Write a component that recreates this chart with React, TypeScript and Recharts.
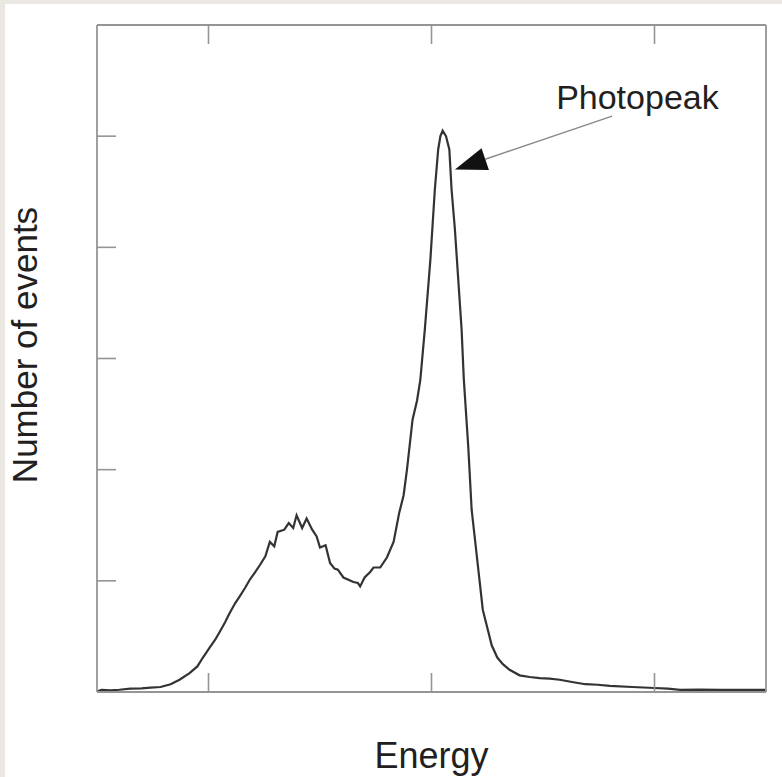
import React from "react";
import { LineChart, Line, XAxis, YAxis, ReferenceLine } from "recharts";

// Energy channel (arbitrary units, 0..600) and number of events (arbitrary units, 0..600)
const energy = [
  0, 4, 12, 20, 30, 40, 48, 57, 66, 74, 83, 90, 95, 101, 106, 110, 115, 119, 124, 128, 133, 137, 142, 146,
  151, 155, 159, 162, 168, 172, 176, 179, 184, 188, 193, 197, 200, 205, 209, 213, 216, 221, 230, 234, 236,
  240, 245, 248, 254, 260, 266, 271, 275, 278, 283, 287, 290, 294, 299, 303, 306, 308, 310, 313, 316, 318,
  321, 324, 327, 329, 333, 336, 339, 343, 346, 350, 354, 359, 364, 370, 379, 388, 397, 406, 415, 426, 438,
  449, 460, 480, 500, 512, 523, 540, 559, 580, 600,
];
const counts = [
  0.5, 2, 1.5, 2, 3, 3.2, 4, 4.5, 7, 11, 17, 23, 31, 40, 47, 54, 63, 71, 80, 86, 94, 101, 108, 114, 122,
  135, 131, 144, 146, 152, 147.5, 159, 147.5, 156, 146, 140, 130, 132, 116, 111, 110, 103, 99, 98, 95, 103,
  108, 112, 112, 121, 135, 161, 177, 200, 245, 262, 281, 326, 389, 452, 488, 500, 505, 500, 488, 452, 416,
  371, 326, 281, 220, 164, 137, 101, 74, 58, 42, 31, 25, 20, 15, 13.5, 12.5, 12, 11, 9, 7, 6.5, 5.5, 4.5,
  3.6, 3, 2, 2.2, 2, 2, 2,
];
const xTicks = [100, 300, 500];
const yTicks = [100, 200, 300, 400, 500];
const annotationText = "Photopeak";
const xTitle = "Energy";
const yTitle = "Number of events";
// arrow: tip on the peak flank, tail near the label
const arrowSegment = [
  { x: 321, y: 470 },
  { x: 462, y: 518 },
];

const data = energy.map((e, i) => ({ e, n: counts[i] }));

const FRAME = "#959595";
const FONT = "'Liberation Sans', Arial, Helvetica, sans-serif";

const ArrowShape = (props: any) => {
  const { x1, y1, x2, y2 } = props;
  const dx = x2 - x1;
  const dy = y2 - y1;
  const len = Math.sqrt(dx * dx + dy * dy) || 1;
  const ux = dx / len;
  const uy = dy / len;
  const headLen = 32;
  const half = 11.5;
  const bx = x1 + ux * headLen;
  const by = y1 + uy * headLen;
  const px = -uy * half;
  const py = ux * half;
  return (
    <g>
      <line x1={bx} y1={by} x2={x2} y2={y2} stroke="#8a8a8a" strokeWidth={1.5} />
      <polygon
        points={`${x1},${y1} ${bx + px},${by + py} ${bx - px},${by - py}`}
        fill="#111"
      />
      <text x={x2 - 56} y={y2 - 7} fontSize={34} fontFamily={FONT} fill="#231f20">
        {annotationText}
      </text>
    </g>
  );
};

const EmptyTick = () => <g />;

const axisCommon = {
  type: "number" as const,
  domain: [0, 600] as [number, number],
  mirror: true,
  tick: EmptyTick,
  tickSize: 19,
  axisLine: { stroke: FRAME, strokeWidth: 1.8 },
  tickLine: { stroke: FRAME, strokeWidth: 1.6 },
};

export default function App() {
  return (
    <div
      style={{
        position: "absolute",
        left: 0,
        top: 0,
        width: 782,
        height: 777,
        background: "#ebe8e4",
        overflow: "hidden",
      }}
    >
      <div
        style={{
          position: "absolute",
          left: 5,
          top: 4,
          width: 777,
          height: 773,
          background: "#ffffff",
        }}
      />
      <div style={{ position: "absolute", left: 0, top: 0 }}>
        <LineChart
          width={782}
          height={777}
          data={data}
          margin={{ top: 25, left: 97, right: 16, bottom: 85 }}
        >
          <XAxis {...axisCommon} xAxisId={0} dataKey="e" ticks={xTicks} orientation="bottom" height={1} />
          <XAxis {...axisCommon} xAxisId="top" dataKey="e" ticks={xTicks} orientation="top" height={1} />
          <YAxis {...axisCommon} yAxisId={0} ticks={yTicks} orientation="left" width={1} />
          <YAxis {...axisCommon} yAxisId="right" ticks={yTicks} orientation="right" width={1} />
          <Line
            xAxisId={0}
            yAxisId={0}
            dataKey="n"
            type="linear"
            stroke="#333333"
            strokeWidth={2.2}
            dot={false}
            isAnimationActive={false}
          />
          <ReferenceLine
            xAxisId={0}
            yAxisId={0}
            segment={arrowSegment}
            ifOverflow="visible"
            shape={ArrowShape}
          />
        </LineChart>
      </div>
      <svg
        width={782}
        height={777}
        style={{ position: "absolute", left: 0, top: 0, pointerEvents: "none" }}
      >
        <text
          x={431.5}
          y={768}
          textAnchor="middle"
          fontSize={36}
          fontFamily={FONT}
          fill="#231f20"
        >
          {xTitle}
        </text>
        <text
          x={0}
          y={0}
          transform="translate(37,345) rotate(-90)"
          textAnchor="middle"
          fontSize={35}
          fontFamily={FONT}
          fill="#231f20"
        >
          {yTitle}
        </text>
      </svg>
    </div>
  );
}
